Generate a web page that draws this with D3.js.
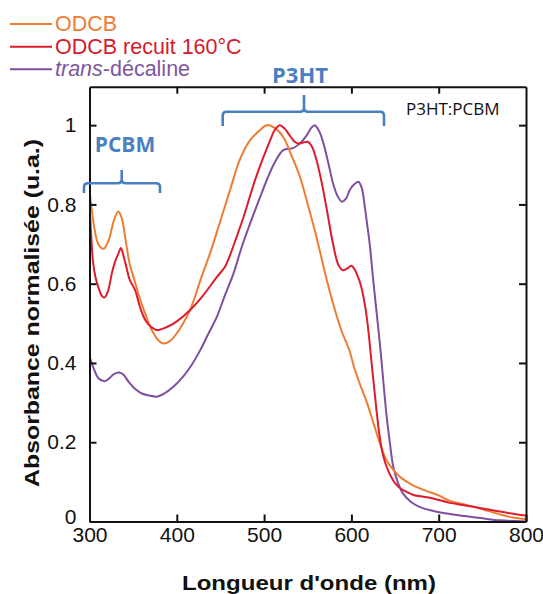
<!DOCTYPE html>
<html><head><meta charset="utf-8">
<script src="https://cdn.jsdelivr.net/npm/d3@7"></script>
<style>
html,body{margin:0;padding:0;background:#fff;}
svg{display:block;}
</style></head>
<body>
<svg id="chart" width="543" height="594"></svg>
<script>
// ---------- data ----------
const xTickValues = [300, 400, 500, 600, 700, 800];
const yTickValues = [0, 0.2, 0.4, 0.6, 0.8, 1];
const yTickLabels = ["0", "0.2", "0.4", "0.6", "0.8", "1"];
const seriesNames = ["ODCB", "ODCB recuit 160°C", "trans-décaline"];

const wlODCB = [300,303,306,310,316,322,328,333,337,341,346,352,358,364,372,380,385,392,400,408,415,421,427,438,449,461,472,484,495,503,512,522,531,541,550,560,570,579,588,598,603,610,617,625,633,640,648,656,670,685,700,713,732,750,770,785,800];
const absODCB = [0.835,0.78,0.735,0.70,0.688,0.71,0.76,0.782,0.765,0.715,0.65,0.605,0.56,0.523,0.48,0.455,0.449,0.455,0.475,0.503,0.533,0.568,0.609,0.676,0.752,0.836,0.912,0.962,0.987,1.0,0.993,0.97,0.925,0.87,0.80,0.718,0.625,0.55,0.485,0.43,0.39,0.345,0.305,0.25,0.195,0.155,0.13,0.112,0.092,0.078,0.066,0.052,0.042,0.031,0.018,0.01,0.006];

const wlRecuit = [300,302,304,307,310,314,317,321,326,330,333,336,339,343,346,352,358,364,371,377,388,400,415,430,446,455,461,468,476,491,507,512,518,524,530,535,539,545,550,555,560,566,572,579,585,590,595,600,604,607,611,617,625,632,636,640,645,650,656,663,671,690,713,732,750,770,800];
const absRecuit = [0.80,0.72,0.655,0.615,0.592,0.57,0.565,0.58,0.63,0.66,0.675,0.69,0.67,0.635,0.61,0.585,0.54,0.508,0.49,0.483,0.49,0.505,0.533,0.57,0.617,0.642,0.672,0.715,0.765,0.87,0.962,0.987,1.0,0.99,0.972,0.958,0.954,0.956,0.958,0.945,0.912,0.855,0.785,0.70,0.648,0.634,0.638,0.645,0.635,0.62,0.595,0.525,0.36,0.22,0.17,0.14,0.115,0.097,0.084,0.075,0.067,0.06,0.047,0.04,0.033,0.025,0.015];

const wlDecaline = [300,305,310,317,322,328,334,339,345,352,360,368,377,385,396,407,417,427,436,446,455,465,474,484,494,503,512,522,533,541,549,554,558,563,568,574,579,584,589,594,598,603,608,612,615,618,621,625,633,640,644,648,653,659,668,678,695,713,732,750,770,800];
const absDecaline = [0.416,0.385,0.362,0.354,0.36,0.372,0.376,0.37,0.352,0.335,0.323,0.318,0.315,0.322,0.34,0.365,0.395,0.433,0.473,0.517,0.57,0.626,0.69,0.752,0.81,0.861,0.905,0.937,0.942,0.954,0.975,0.993,1.0,0.985,0.954,0.90,0.853,0.822,0.807,0.815,0.836,0.85,0.857,0.84,0.80,0.75,0.70,0.609,0.44,0.273,0.2,0.138,0.1,0.071,0.05,0.037,0.026,0.019,0.013,0.008,0.003,0.0];

// ---------- layout ----------
const colors = ["#ED7D31", "#DD1C2E", "#7F4F9F"];
const textColors = ["#EE7D33", "#D41A2C", "#7C57A0"];
const blue = "#4A80C0";
const svg = d3.select("#chart");
const x = d3.scaleLinear().domain([300, 800]).range([89.5, 526]);
const y = d3.scaleLinear().domain([0, 1.097]).range([521.5, 86.7]);

const seriesData = [
  wlODCB.map((w, i) => [w, absODCB[i]]),
  wlRecuit.map((w, i) => [w, absRecuit[i]]),
  wlDecaline.map((w, i) => [w, absDecaline[i]])
];

// clip
svg.append("clipPath").attr("id", "clip").append("rect")
  .attr("x", x(300)).attr("y", y(1.097)).attr("width", x(800) - x(300)).attr("height", y(0) - y(1.097));

const line = d3.line().x(d => x(d[0])).y(d => y(d[1])).curve(d3.curveCatmullRom.alpha(0.5));
const g = svg.append("g").attr("clip-path", "url(#clip)");
// draw order: decaline, ODCB, recuit
[2, 0, 1].forEach(i => {
  g.append("path").datum(seriesData[i])
    .attr("fill", "none").attr("stroke", colors[i]).attr("stroke-width", 2)
    .attr("stroke-linejoin", "round").attr("d", line);
});

// axes
const tickFont = "'Liberation Sans', Arial, sans-serif";
const axB = svg.append("g").attr("transform", `translate(0,${y(0)})`)
  .call(d3.axisBottom(x).tickValues(xTickValues).tickSize(-7).tickSizeOuter(0).tickPadding(6).tickFormat(d3.format("d")));
const axL = svg.append("g").attr("transform", `translate(${x(300)},0)`)
  .call(d3.axisLeft(y).tickValues(yTickValues).tickSize(-7).tickSizeOuter(0).tickPadding(13)
    .tickFormat((d, i) => yTickLabels[i]));
const axT = svg.append("g").attr("transform", `translate(0,${y(1.097)})`)
  .call(d3.axisTop(x).tickValues(xTickValues.slice(1, -1)).tickSize(-7).tickSizeOuter(0).tickFormat(""));
const axR = svg.append("g").attr("transform", `translate(${x(800)},0)`)
  .call(d3.axisRight(y).tickValues(yTickValues.slice(1)).tickSize(-7).tickSizeOuter(0).tickFormat(""));
[axB, axL, axT, axR].forEach(a => {
  a.selectAll("path.domain").attr("stroke", "#111").attr("stroke-width", 2);
  a.selectAll(".tick line").attr("stroke", "#111").attr("stroke-width", 2);
  a.selectAll(".tick text").attr("font-family", tickFont).attr("font-size", 21).attr("fill", "#111");
});
// lift the "0" label slightly so it clears the "300" label (as in the reference)
axL.selectAll(".tick").filter(d => d === 0).select("text").attr("y", -5);

// axis titles
svg.append("text")
  .attr("x", 309).attr("y", 590).attr("text-anchor", "middle")
  .attr("font-family", tickFont).attr("font-weight", "bold").attr("font-size", 20)
  .attr("textLength", 254).attr("lengthAdjust", "spacingAndGlyphs").attr("fill", "#111")
  .text("Longueur d'onde (nm)");
svg.append("text")
  .attr("transform", "translate(39,313) rotate(-90)").attr("text-anchor", "middle")
  .attr("font-family", tickFont).attr("font-weight", "bold").attr("font-size", 20)
  .attr("textLength", 348).attr("lengthAdjust", "spacingAndGlyphs").attr("fill", "#111")
  .text("Absorbance normalisée (u.a.)");

// legend
const legY = [24, 46.7, 69.3];
seriesNames.forEach((name, i) => {
  svg.append("line").attr("x1", 10).attr("x2", 52).attr("y1", legY[i]).attr("y2", legY[i])
    .attr("stroke", colors[i]).attr("stroke-width", 2);
  const t = svg.append("text").attr("x", 55).attr("y", legY[i] + 7)
    .attr("font-family", tickFont).attr("font-size", 21.5).attr("fill", textColors[i]);
  if (i === 2) {
    t.append("tspan").attr("font-style", "italic").text("trans");
    t.append("tspan").text("-décaline");
  } else {
    t.text(name);
  }
});

// annotations
function bracket(x0, x1, xm, yl, yEnd, yTop) {
  const r = 4;
  return `M${x0},${yEnd} V${yl + r} Q${x0},${yl} ${x0 + r},${yl} H${xm - r} Q${xm},${yl} ${xm},${yl - r} V${yTop}` +
         ` M${xm},${yl - r} Q${xm},${yl} ${xm + r},${yl} H${x1 - r} Q${x1},${yl} ${x1},${yl + r} V${yEnd}`;
}
svg.append("path").attr("d", bracket(84, 160, 121.7, 183.3, 193, 170))
  .attr("fill", "none").attr("stroke", blue).attr("stroke-width", 2.6);
svg.append("path").attr("d", bracket(222.7, 384, 304, 111.7, 126, 95))
  .attr("fill", "none").attr("stroke", blue).attr("stroke-width", 2.6);
svg.append("text").attr("x", 125).attr("y", 152).attr("text-anchor", "middle")
  .attr("font-family", "'Open Sans', sans-serif").attr("font-weight", "bold").attr("font-size", 21)
  .attr("fill", blue).text("PCBM");
svg.append("text").attr("x", 300).attr("y", 83).attr("text-anchor", "middle")
  .attr("font-family", "'Open Sans', sans-serif").attr("font-weight", "bold").attr("font-size", 22)
  .attr("fill", blue).text("P3HT");
svg.append("text").attr("x", 406).attr("y", 115)
  .attr("font-family", "'Open Sans', sans-serif").attr("font-size", 17)
  .attr("fill", "#111").text("P3HT:PCBM");
</script>
</body></html>
